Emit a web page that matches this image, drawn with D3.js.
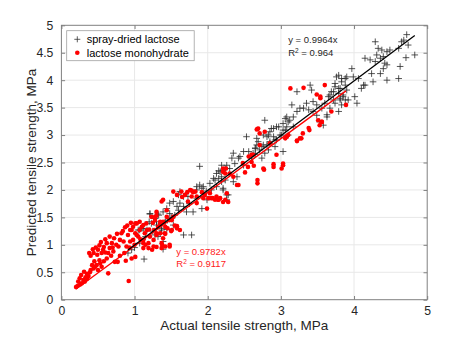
<!DOCTYPE html>
<html>
<head>
<meta charset="utf-8">
<script src="https://cdn.jsdelivr.net/npm/d3@7"></script>
<style>
  body { margin: 0; background: #fff; }
  svg { font-family: "Liberation Sans", Arial, sans-serif; }
</style>
</head>
<body>
<svg width="472" height="337"></svg>
<script>
// spray-dried lactose [actual, predicted], MPa
var sprayDried = [
  [0.91,0.85],[0.96,0.91],[1.13,0.74],[1.07,1.03],[1.05,1.27],[1.10,1.30],[1.17,1.27],[1.20,1.42],
  [1.23,1.39],[1.21,1.56],[1.28,1.48],[1.30,1.36],[1.32,1.56],[1.36,1.39],[1.28,1.18],[1.32,1.15],
  [1.35,1.21],[1.39,1.06],[1.37,1.30],[1.39,0.92],[1.78,1.18],[1.00,0.95],
  [1.89,2.43],[2.19,2.45],[2.15,2.35],[2.24,2.39],[2.08,2.21],[1.89,2.09],[1.85,2.06],[1.92,2.03],
  [2.03,2.12],[2.12,2.06],[2.19,2.15],[2.21,2.00],[2.26,1.91],[1.62,1.97],[1.60,1.91],[1.67,1.88],
  [1.73,1.88],[1.53,1.79],[1.48,1.76],[1.62,1.76],[1.67,1.70],[1.60,1.63],[1.71,1.60],[1.80,1.60],
  [1.94,1.88],[1.99,1.82],[1.92,1.66],[1.44,1.66],[1.39,1.60],[1.33,1.54],[1.48,1.57],[1.21,1.57],
  [1.30,1.42],[1.42,1.42],[1.12,1.30],[1.07,1.27],[1.44,1.28],[1.37,1.27],[1.67,1.18],[1.53,1.36],
  [1.55,1.54],[1.58,1.70],[1.75,1.75],[1.85,1.85],[1.98,1.98],[2.05,2.00],[1.50,1.50],[1.45,1.45],
  [1.25,1.25],[1.15,1.15],
  [2.78,3.27],[3.08,3.33],[3.10,3.24],[2.90,3.12],[2.97,3.15],[3.03,3.09],[2.85,3.06],[2.81,2.97],
  [2.90,2.97],[2.99,3.00],[2.94,2.91],[2.85,2.88],[2.81,2.82],[2.53,2.97],[2.67,2.94],[2.69,2.88],
  [2.65,2.76],[2.62,2.67],[2.56,2.70],[2.49,2.70],[2.44,2.61],[2.42,2.58],[2.35,2.67],[2.33,2.58],
  [2.37,2.48],[2.49,2.45],[2.30,2.39],[2.26,2.45],[2.21,2.36],[2.17,2.33],[2.19,2.24],[2.12,2.30],
  [2.15,2.21],[2.10,2.18],[2.24,2.18],[2.40,2.24],[2.35,2.15],[1.94,2.06],[1.85,2.00],[2.28,1.91],
  [2.26,1.82],[2.21,2.03],[3.06,3.09],[2.92,2.79],[2.74,2.79],
  [3.79,4.09],[3.88,4.03],[3.83,3.97],[3.74,3.94],[3.79,3.85],[3.90,3.82],[3.85,3.73],[3.69,3.79],
  [3.65,3.70],[3.72,3.64],[3.81,3.67],[3.88,3.64],[3.60,3.58],[3.56,3.49],[3.49,3.55],[3.44,3.61],
  [3.40,3.91],[3.42,3.82],[3.22,3.79],[3.35,3.58],[3.31,3.49],[3.26,3.49],[3.22,3.43],[3.38,3.46],
  [3.44,3.43],[3.49,3.36],[3.63,3.33],[3.53,3.24],[3.58,3.18],[3.15,3.55],[3.17,3.33],[3.12,3.27],
  [3.06,3.30],[3.03,3.21],[3.08,3.15],[3.17,3.15],[2.94,3.15],[2.87,3.12],[2.83,3.00],[2.76,3.00],
  [3.01,3.00],[3.10,3.00],[2.92,2.91],[2.85,2.85],[2.76,2.82],[2.67,2.82],[2.65,2.76],[2.71,2.73],
  [2.83,2.73],[2.78,2.67],[2.65,2.65],[2.60,2.58],[2.74,2.58],[3.03,2.70],
  [4.72,4.83],[4.68,4.73],[4.74,4.64],[4.83,4.46],[4.71,4.41],[4.65,4.70],[4.61,4.58],[4.45,4.52],
  [4.49,4.55],[4.33,4.58],[4.38,4.55],[4.29,4.70],[4.40,4.43],[4.36,4.40],[4.31,4.46],[4.15,4.40],
  [4.22,4.37],[4.29,4.34],[4.42,4.31],[4.40,4.21],[4.45,4.28],[4.63,4.25],[4.61,4.03],[4.45,4.00],
  [4.36,4.12],[4.24,4.12],[4.26,3.97],[4.13,3.91],[4.10,3.85],[4.06,4.03],[3.99,4.06],[3.97,4.21],
  [3.90,4.06],[3.83,4.03],[3.76,4.06],[3.88,3.91],[3.81,3.85],[3.74,3.88],[3.72,3.79],[3.79,3.76],
  [3.67,3.73],[3.85,3.70],[3.92,3.64],[4.01,3.70],[4.04,3.58],[3.81,3.64],[3.83,3.55],[3.74,3.58],
  [3.79,3.43],[3.67,3.49],[3.63,3.37],[4.15,3.91]
];

// lactose monohydrate [actual, predicted], MPa
var monohydrate = [
  [0.20,0.23],[0.23,0.33],[0.25,0.39],[0.28,0.30],[0.30,0.36],[0.31,0.51],[0.33,0.41],[0.37,0.43],
  [0.38,0.85],[0.40,0.54],[0.44,0.57],[0.46,0.60],[0.48,0.63],[0.50,0.54],[0.53,0.66],[0.44,0.85],
  [0.47,0.95],[0.50,0.91],[0.55,0.85],[0.57,0.91],[0.60,0.86],[0.62,1.03],[0.64,0.85],[0.66,0.94],
  [0.69,1.03],[0.64,0.48],[0.71,0.88],[0.73,0.69],[0.77,0.69],[0.78,0.97],[0.80,1.09],[0.82,1.21],
  [0.85,1.06],[0.87,1.32],[0.89,0.97],[0.91,1.18],[0.92,0.34],[0.94,1.06],[0.96,1.27],[0.98,1.33],
  [1.01,1.21],[1.03,1.39],[1.05,1.15],[1.07,1.27],[1.10,1.33],[1.12,1.09],[1.14,1.21],[1.16,1.39],
  [1.19,1.03],[1.21,1.15],[1.24,0.91],[1.27,1.27],[1.30,1.21],[1.32,1.33],[1.37,0.94],[1.39,1.12],
  [1.01,0.78],[0.96,0.75],[0.88,0.71],
  [0.27,0.45],[0.35,0.47],[0.39,0.50],[0.42,0.63],[0.45,0.70],[0.52,0.72],[0.55,0.60],[0.58,0.70],
  [0.62,0.75],[0.68,0.80],[0.70,0.95],[0.75,1.00],[0.58,0.96],[0.52,0.99],[0.35,0.38],[0.22,0.25],
  [0.26,0.28],[0.32,0.33],[0.40,0.80],[0.43,0.92],[0.49,0.82],[0.54,1.05],[0.60,1.10],[0.66,1.15],
  [0.72,1.12],[0.76,1.20],[0.84,1.25],[0.90,1.35],[0.95,1.40],[0.80,0.80],[0.86,0.85],[0.93,0.95],
  [1.00,1.00],[1.08,1.10],[1.15,1.00],[1.20,1.28],[1.25,1.40],[1.28,1.45],[1.35,1.38],[1.42,1.20],
  [1.45,1.30],[1.50,1.25],[1.55,1.35],[1.48,0.97],[1.38,0.99],[1.30,0.96],[1.12,0.94],[1.41,1.21],
  [1.39,1.82],[1.37,1.79],[1.53,1.97],[1.58,1.91],[1.64,1.97],[1.76,2.00],[1.69,1.91],[1.78,1.88],
  [1.83,1.97],[2.01,1.85],[2.03,1.94],[2.10,1.82],[2.17,1.85],[2.24,1.82],[2.26,1.94],[1.99,1.66],
  [1.39,1.42],[1.35,1.42],[1.42,1.33],[1.51,1.27],[1.58,1.30],[1.62,1.27],[1.01,1.39],[1.07,1.42],
  [1.12,1.36],[1.17,1.27],[0.94,1.27],[1.03,1.18],[1.26,1.09],[1.30,1.18],[1.37,1.03],[1.42,0.97],
  [1.26,0.97],[0.98,1.09],[1.12,1.03],[1.19,0.94],[1.48,1.00],[1.35,1.21],[1.30,1.53],[1.44,1.63],
  [1.23,1.51],[1.48,1.45],[1.53,1.51],[1.85,1.76],[1.73,1.79],
  [1.72,1.96],[1.80,1.96],[1.65,1.87],[1.30,1.60],[1.28,1.51],[1.44,1.51],[1.51,1.45],[1.58,1.34],
  [2.07,1.85],[2.14,1.82],[2.21,1.78],[2.28,1.78],[2.40,2.09],[2.51,2.32],[2.55,2.42],[2.48,2.49],
  [2.24,2.30],
  [1.78,1.99],[1.85,1.88],[1.92,1.96],[1.94,1.85],[1.96,1.91],[2.05,1.85],[2.12,1.88],[2.15,1.82],
  [2.21,2.39],[2.25,2.39],[2.21,2.33],[2.30,2.30],[2.35,2.24],[2.42,2.09],[2.60,2.51],[2.56,2.61],
  [2.62,2.64],[2.68,2.12],[2.68,2.18],[2.76,2.39],[2.69,3.12],[2.78,3.06],[2.71,2.82],[2.85,2.85],
  [2.90,2.42],[2.94,2.64],[3.01,2.39],[3.03,2.45],[3.06,2.94],[3.08,2.97],[3.10,3.00],[2.77,2.37],
  [2.63,2.44],[2.67,3.10],[3.22,2.90],[3.28,2.94],[3.30,3.03],
  [3.13,3.85],[3.31,3.86],[3.49,3.74],[3.54,3.67],[3.60,3.91],[3.51,3.27],[3.56,3.24],[3.53,3.18],
  [3.69,3.43],[3.39,3.09],[3.38,3.13],[3.26,2.94],[3.22,2.89],[2.68,3.11],[2.71,3.03],[2.60,2.64],
  [3.03,2.48],[2.90,2.47],[3.54,3.70],[3.89,3.55],[3.56,3.24]
];

// linear fits through origin
var fitSpray = { slope: 0.9964, r2: "0.964",  xRange: [0.91, 4.83] };
var fitMono  = { slope: 0.9782, r2: "0.9117", xRange: [0.20, 3.89] };

var xTicks = [0, 1, 2, 3, 4, 5];
var yTicks = [0, 0.5, 1, 1.5, 2, 2.5, 3, 3.5, 4, 4.5, 5];

function drawChart() {
  var svg = d3.select("svg"),
      pLeft = 61.4, pRight = 427.2, pTop = 25.3, pBottom = 299.7;

  var x = d3.scaleLinear().domain([0, 5]).range([pLeft, pRight]);
  var y = d3.scaleLinear().domain([0, 5]).range([pBottom, pTop]);

  // grid
  var grid = svg.append("g").attr("stroke", "#e8e8e8").attr("stroke-width", 1);
  grid.selectAll(".gx").data(xTicks.slice(1, -1)).enter().append("line")
    .attr("x1", d => x(d)).attr("x2", d => x(d)).attr("y1", pTop).attr("y2", pBottom);
  grid.selectAll(".gy").data(yTicks.slice(1, -1)).enter().append("line")
    .attr("y1", d => y(d)).attr("y2", d => y(d)).attr("x1", pLeft).attr("x2", pRight);

  // points
  var pts = svg.append("g");
  pts.selectAll("path.sd").data(sprayDried).enter().append("path")
    .attr("class", "sd")
    .attr("d", d => "M" + (x(d[0]) - 3.3) + "," + y(d[1]) + "h6.6M" + x(d[0]) + "," + (y(d[1]) - 3.3) + "v6.6")
    .attr("stroke", "#2a2a2a").attr("stroke-width", 0.8).attr("fill", "none");
  pts.selectAll("circle").data(monohydrate).enter().append("circle")
    .attr("cx", d => x(d[0])).attr("cy", d => y(d[1])).attr("r", 2.3)
    .attr("fill", "#ff0000");

  // fit lines
  [[fitMono, "#ff0000"], [fitSpray, "#000"]].forEach(function(f) {
    var fit = f[0];
    svg.append("line")
      .attr("x1", x(fit.xRange[0])).attr("y1", y(fit.slope * fit.xRange[0]))
      .attr("x2", x(fit.xRange[1])).attr("y2", y(fit.slope * fit.xRange[1]))
      .attr("stroke", f[1]).attr("stroke-width", 1.3);
  });

  // axes
  var fmt = d3.format("~g");
  svg.append("g").attr("transform", "translate(0," + pBottom + ")")
    .call(d3.axisBottom(x).tickValues(xTicks).tickFormat(fmt).tickSize(-3.7).tickPadding(7));
  svg.append("g").attr("transform", "translate(" + pLeft + ",0)")
    .call(d3.axisLeft(y).tickValues(yTicks).tickFormat(fmt).tickSize(-3.7).tickPadding(8));
  svg.append("g").attr("transform", "translate(0," + pTop + ")")
    .call(d3.axisTop(x).tickValues(xTicks).tickFormat("").tickSize(-3.7));
  svg.append("g").attr("transform", "translate(" + pRight + ",0)")
    .call(d3.axisRight(y).tickValues(yTicks).tickFormat("").tickSize(-3.7));
  svg.selectAll(".domain").remove();
  svg.selectAll(".tick line").attr("stroke", "#808080");
  svg.selectAll(".tick text").attr("fill", "#262626").style("font-size", "12.2px")
    .style("font-family", "'Liberation Sans', Arial, sans-serif");

  svg.append("rect").attr("x", pLeft).attr("y", pTop)
    .attr("width", pRight - pLeft).attr("height", pBottom - pTop)
    .attr("fill", "none").attr("stroke", "#808080").attr("stroke-width", 1);

  // axis labels
  svg.append("text").attr("x", (pLeft + pRight) / 2).attr("y", 330)
    .attr("text-anchor", "middle").attr("fill", "#262626").style("font-size", "13.5px")
    .text("Actual tensile strength, MPa");
  svg.append("text").attr("transform", "translate(36," + (pTop + pBottom) / 2 + ") rotate(-90)")
    .attr("text-anchor", "middle").attr("fill", "#262626").style("font-size", "13.5px")
    .text("Predicted tensile strength, MPa");

  // fit annotations
  function annot(xv, yv, fit, color) {
    svg.append("text").attr("x", x(xv)).attr("y", y(yv))
      .attr("fill", color).style("font-size", "9.5px")
      .text("y = " + fit.slope + "x");
    var r = svg.append("text").attr("x", x(xv)).attr("y", y(yv) + 12.8)
      .attr("fill", color).style("font-size", "9.5px");
    r.append("tspan").text("R");
    r.append("tspan").attr("dy", -3.5).style("font-size", "6.5px").text("2");
    r.append("tspan").attr("dy", 3.5).text(" = " + fit.r2);
  }
  annot(3.1, 4.67, fitSpray, "#262626");
  annot(1.57, 0.82, fitMono, "#ff2020");

  // legend
  var lg = svg.append("g");
  lg.append("rect").attr("x", 66.7).attr("y", 30.7).attr("width", 127.5).attr("height", 30)
    .attr("fill", "#fff").attr("stroke", "#a0a0a0").attr("stroke-width", 0.8);
  lg.append("path").attr("d", "M74.3,39.3h6M77.3,36.3v6")
    .attr("stroke", "#333").attr("stroke-width", 0.8);
  lg.append("circle").attr("cx", 77.3).attr("cy", 52.7).attr("r", 2.3).attr("fill", "#ff0000");
  lg.append("text").attr("x", 86.7).attr("y", 43.2).attr("fill", "#000").style("font-size", "11px")
    .text("spray-dried lactose");
  lg.append("text").attr("x", 86.7).attr("y", 56.6).attr("fill", "#000").style("font-size", "11px")
    .text("lactose monohydrate");
}

drawChart();
</script>
</body>
</html>
